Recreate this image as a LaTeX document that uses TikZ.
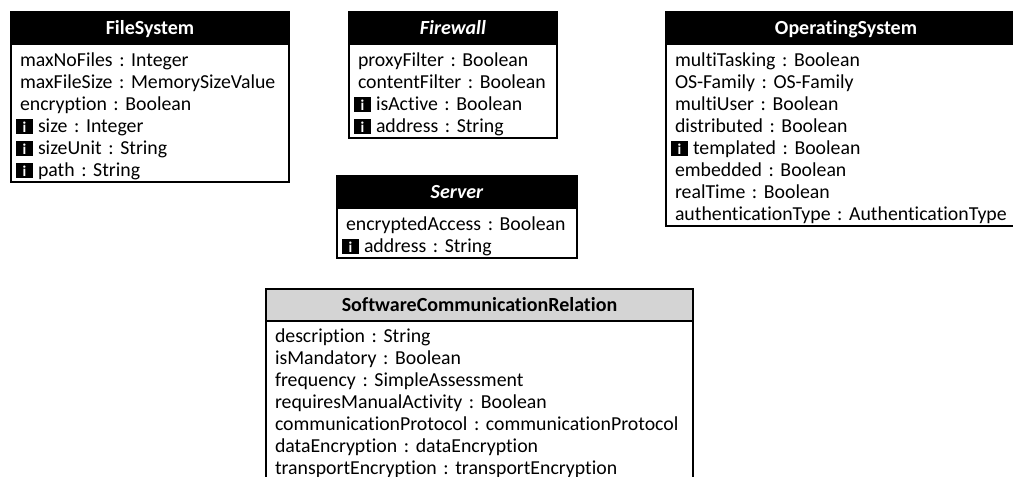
\documentclass[tikz,border=0pt]{standalone}
\usepackage{fontspec}
\setmainfont{Carlito}[Ligatures=CommonOff]
\frenchspacing
\newcommand{\infoicon}{\hspace*{-4pt}{\fboxsep=0pt\raisebox{-2pt}{\colorbox{black}{\makebox[17pt]{\rule{0pt}{15pt}\raisebox{1.5pt}{\color{white}\fontsize{15}{15}\selectfont\bfseries i}}}}}\hspace{5pt}}
\newcommand{\firstrow}{\rule{0pt}{21.4pt}}
\newcommand{\lastrow}{\rule[-4.6pt]{0pt}{4.6pt}}
\begin{document}
\begin{tikzpicture}[x=1pt,y=-1pt]
\tikzset{
  classhead/.style={draw=black,fill=black,text=white,line width=1.2pt,outer sep=0pt,anchor=north west,minimum height=32pt,text depth=1pt,font=\fontsize{20}{22}\selectfont\bfseries},
  abstracthead/.style={classhead,font=\fontsize{20}{22}\selectfont\bfseries\itshape},
  relationhead/.style={classhead,fill=black!17,text=black},
  classbody/.style={draw=black,fill=white,line width=1.2pt,outer sep=0pt,anchor=north west,align=left,inner xsep=9pt,inner ysep=1pt,font=\fontsize{19.8}{22}\selectfont}
}
\useasboundingbox (0,0) rectangle (1013,477);
\node[classhead,minimum width=278pt] (filesystem) at (11,12) {FileSystem};
\node[classbody,text width=260pt] (filesystemattr) at (filesystem.south west) {\firstrow maxNoFiles : Integer\\maxFileSize : MemorySizeValue\\encryption : Boolean\\\infoicon size : Integer\\\infoicon sizeUnit : String\\\infoicon path : String\lastrow};
\node[abstracthead,minimum width=208pt] (firewall) at (349,12) {Firewall};
\node[classbody,text width=190pt] (firewallattr) at (firewall.south west) {\firstrow proxyFilter : Boolean\\contentFilter : Boolean\\\infoicon isActive : Boolean\\\infoicon address : String\lastrow};
\node[abstracthead,minimum width=240pt] (server) at (337,176) {Server};
\node[classbody,text width=222pt] (serverattr) at (server.south west) {\firstrow encryptedAccess : Boolean\\\infoicon address : String\lastrow};
\node[classhead,minimum width=360pt] (os) at (666,12) {OperatingSystem};
\node[classbody,text width=342pt] (osattr) at (os.south west) {\firstrow multiTasking : Boolean\\OS-Family : OS-Family\\multiUser : Boolean\\distributed : Boolean\\\infoicon templated : Boolean\\embedded : Boolean\\realTime : Boolean\\authenticationType : AuthenticationType\lastrow};
\node[relationhead,minimum width=427pt] (relation) at (266,289) {SoftwareCommunicationRelation};
\node[classbody,text width=409pt] (relationattr) at (relation.south west) {\rule{0pt}{20.4pt}description : String\\isMandatory : Boolean\\frequency : SimpleAssessment\\requiresManualActivity : Boolean\\communicationProtocol : communicationProtocol\\dataEncryption : dataEncryption\\transportEncryption : transportEncryption\lastrow};
\end{tikzpicture}
\end{document}
